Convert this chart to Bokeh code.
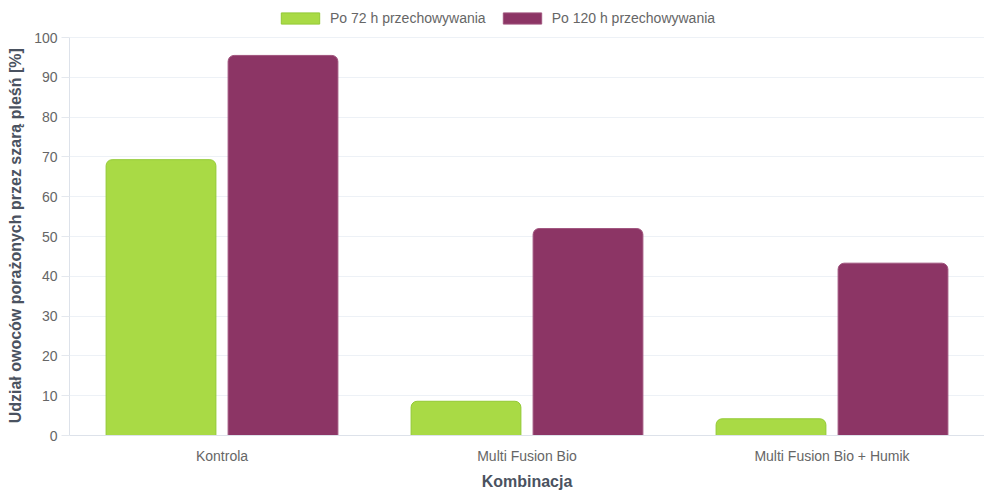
from bokeh.plotting import figure
from bokeh.models import FactorRange, Range1d, Legend, LegendItem, ColumnDataSource, FixedTicker
from bokeh.transform import dodge
from bokeh.embed import file_html
from bokeh.resources import INLINE

categories = ["Kontrola", "Multi Fusion Bio", "Multi Fusion Bio + Humik"]
series_names = ["Po 72 h przechowywania", "Po 120 h przechowywania"]
values_72h = [69.3, 8.6, 4.2]
values_120h = [95.5, 52.0, 43.3]
y_ticks = [0, 10, 20, 30, 40, 50, 60, 70, 80, 90, 100]

FONT = "Liberation Sans"
src = ColumnDataSource(dict(cat=categories, v72=values_72h, v120=values_120h))

# frame spans from page top to the x axis; the room above 100 holds the legend
p = figure(x_range=FactorRange(*categories, range_padding=0), y_range=Range1d(0, 109.3),
           width=984, height=492, output_backend="svg", toolbar_location=None,
           min_border_left=69, min_border_right=0, min_border_top=0, min_border_bottom=57)

r1 = p.vbar(x=dodge("cat", -0.2, range=p.x_range), top="v72", source=src, width=0.36,
            fill_color="#a9da45", line_color="#93c935", line_width=1,
            border_radius=(6, 6, 0, 0))
r2 = p.vbar(x=dodge("cat", 0.2, range=p.x_range), top="v120", source=src, width=0.36,
            fill_color="#8c3565", line_color="#a0557e", line_width=1,
            border_radius=(6, 6, 0, 0))

legend = Legend(items=[LegendItem(label=series_names[0], renderers=[r1]),
                       LegendItem(label=series_names[1], renderers=[r2])],
                orientation="horizontal", location=(207, 409),
                glyph_width=48, glyph_height=14, label_height=14,
                label_text_font=FONT, label_text_font_size="14px", label_text_color="#666666",
                label_standoff=6, spacing=12, padding=3, margin=0,
                border_line_color=None, background_fill_alpha=0)
p.add_layout(legend, "center")

p.outline_line_color = None
p.xgrid.grid_line_color = None
p.ygrid.grid_line_color = "#edf1f6"
p.ygrid.grid_line_width = 1
p.yaxis.ticker = FixedTicker(ticks=y_ticks)
p.yaxis.bounds = (0, 100)

p.yaxis.axis_label = "Udział owoców porażonych przez szarą pleśń [%]" + "\u00a0" * 8
p.xaxis.axis_label = "Kombinacja"
for ax in (p.xaxis, p.yaxis):
    ax.axis_label_text_font = FONT
    ax.axis_label_text_font_style = "bold"
    ax.axis_label_text_font_size = "16px"
    ax.axis_label_text_color = "#4a5260"
    ax.major_label_text_font = FONT
    ax.major_label_text_font_size = "14px"
    ax.major_label_text_color = "#666666"
    ax.axis_line_color = "#dde2ea"
    ax.minor_tick_line_color = None
p.yaxis.major_tick_line_color = "#e4e8ee"
p.yaxis.major_tick_in = 0
p.yaxis.major_tick_out = 8
p.yaxis.major_label_standoff = 4
p.yaxis.axis_label_standoff = 7
p.xaxis.major_tick_line_color = None
p.xaxis.major_label_standoff = 6
p.xaxis.axis_label_standoff = 6

open("out.html", "w").write(file_html(p, INLINE))
